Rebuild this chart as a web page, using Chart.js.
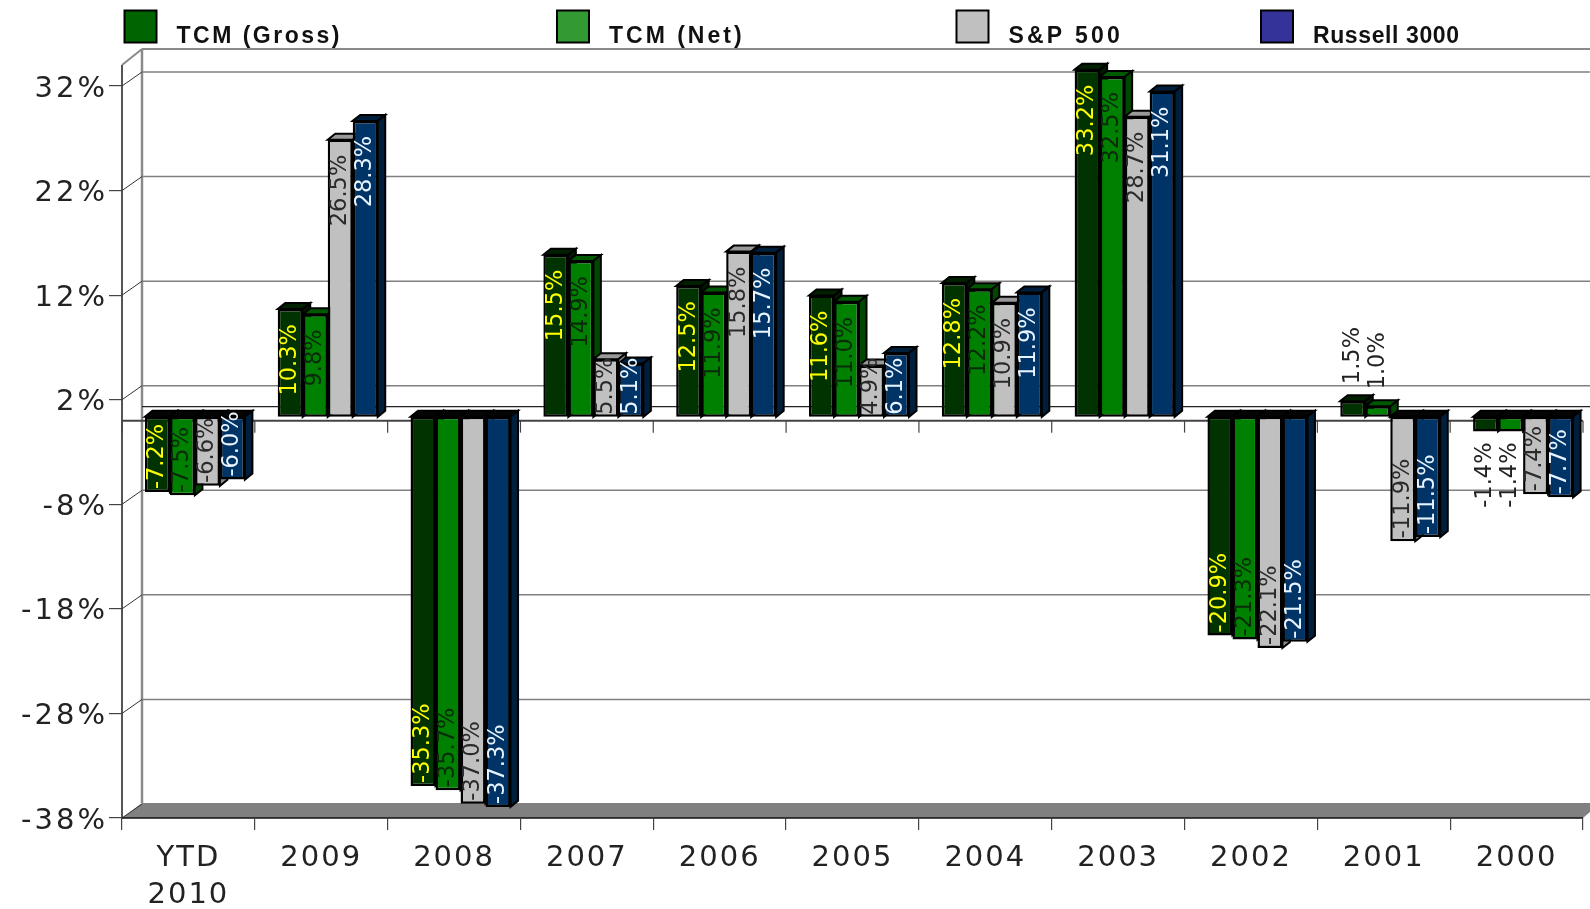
<!DOCTYPE html>
<html><head><meta charset="utf-8">
<style>html,body{margin:0;padding:0;background:#fff}canvas{display:block}</style>
<script src="https://cdn.jsdelivr.net/npm/chart.js@4"></script>
</head><body><canvas id="c" width="1590" height="909"></canvas>
<script>
const categories = [['YTD','2010'],'2009','2008','2007','2006','2005','2004','2003','2002','2001','2000'];
const seriesNames = ['TCM (Gross)','TCM (Net)','S&P 500','Russell 3000'];
const tcmGross = [-7.2,10.3,-35.3,15.5,12.5,11.6,12.8,33.2,-20.9,1.5,-1.4];
const tcmNet = [-7.5,9.8,-35.7,14.9,11.9,11.0,12.2,32.5,-21.3,1.0,-1.4];
const sp500 = [-6.6,26.5,-37.0,5.5,15.8,4.9,10.9,28.7,-22.1,-11.9,-7.4];
const russell3000 = [-6.0,28.3,-37.3,5.1,15.7,6.1,11.9,31.1,-21.5,-11.5,-7.7];
const yTickLabels = ['-38%','-28%','-18%','-8%','2%','12%','22%','32%'];
const yMin = -38, yMax = 32, yStep = 10;

const frontColors = ['#003300','#008000','#C0C0C0','#003366'];
const topColors   = ['#002000','#005800','#999999','#001f3d'];
const sideColors  = ['#001a00','#004800','#8c8c8c','#001f3d'];
const labelColors = ['#FFFF00','#0a2a0a','#2a2a2a','#E8F4FF'];
const legendColors = ['#006400','#339933','#C0C0C0','#333399'];
const legendX = [124.5,557,956.5,1261];
const legendTracking = ['2.5px','3px','3.2px','0.6px'];

const BACK_DX = 20, BACK_DY = 14;   // wall depth
const BAR_DX = 6.5, BAR_DY = -3.8;  // bars stand inside the depth
const FACE_DX = 7.5, FACE_DY = 6;   // bar 3D depth

const series = [tcmGross,tcmNet,sp500,russell3000];
const line = (ctx,x1,y1,x2,y2,col,w)=>{ctx.strokeStyle=col;ctx.lineWidth=w;ctx.beginPath();ctx.moveTo(x1,y1);ctx.lineTo(x2,y2);ctx.stroke();};
const poly = (ctx,pts,fill,stroke,w)=>{ctx.beginPath();pts.forEach((p,i)=>i?ctx.lineTo(p[0],p[1]):ctx.moveTo(p[0],p[1]));ctx.closePath();ctx.fillStyle=fill;ctx.fill();ctx.strokeStyle=stroke;ctx.lineWidth=w;ctx.stroke();};
const tuneLabels = (scale,ctx,dy,tracking)=>{
  if(scale._tuned) return;
  scale._tuned=true;
  const orig=scale.drawLabels.bind(scale);
  scale.drawLabels=(a)=>{ctx.save();ctx.translate(0,dy);ctx.letterSpacing=tracking;orig(a);ctx.restore();};
};

const scene = {
  id:'scene',
  beforeDraw(chart){
    const ctx=chart.ctx, a=chart.chartArea, y=chart.scales.y;
    const L=a.left, R=a.right, B=a.bottom, W=chart.width;
    const topFront=y.getPixelForValue(34);
    const zero=y.getPixelForValue(0);
    tuneLabels(chart.scales.y,ctx,3,'3px');
    tuneLabels(chart.scales.x,ctx,0,'2px');
    ctx.save();
    // floor
    ctx.beginPath();ctx.moveTo(L,B);ctx.lineTo(L+BACK_DX,B-BACK_DY-1);ctx.lineTo(W,B-BACK_DY-1);ctx.lineTo(W,B-6);ctx.lineTo(R,B);ctx.closePath();
    ctx.fillStyle='#808080';ctx.fill();
    // walls
    line(ctx,L+BACK_DX,topFront-BACK_DY-2,W,topFront-BACK_DY-2,'#8a8a8a',2);
    line(ctx,L,topFront,L+BACK_DX,topFront-BACK_DY-2,'#8a8a8a',2);
    line(ctx,L+BACK_DX,topFront-BACK_DY-2,L+BACK_DX,B-BACK_DY-1,'#8a8a8a',2.5);
    line(ctx,L,topFront,L,B,'#555',2);
    // back grid and side diagonals
    y.ticks.forEach(t=>{
      const py=y.getPixelForValue(t.value);
      if(t.value>yMin) line(ctx,L+BACK_DX,py-BACK_DY,W,py-BACK_DY,'#808080',1.5);
      line(ctx,L,py,L+BACK_DX,py-BACK_DY,'#333',1);
    });
    // zero plane: back line, front line with its ticks
    line(ctx,L+BACK_DX,zero-BACK_DY,W,zero-BACK_DY,'#222',1.2);
    line(ctx,L,zero,R,zero,'#444',2);
    for(let i=0;i<=categories.length;i++){
      const px=L+(R-L)*i/categories.length;
      line(ctx,px,zero,px,zero+12,'#444',1.2);
    }
    line(ctx,L,B,R,B,'#111',1.5);
    // legend
    ctx.textAlign='left';ctx.textBaseline='alphabetic';
    seriesNames.forEach((n,i)=>{
      ctx.fillStyle=legendColors[i];ctx.fillRect(legendX[i],10.5,32,32);
      ctx.strokeStyle='#000';ctx.lineWidth=2;ctx.strokeRect(legendX[i],10.5,32,32);
      ctx.fillStyle='#111';ctx.font='bold 23px "Liberation Sans"';ctx.letterSpacing=legendTracking[i];
      ctx.fillText(n,legendX[i]+52,43);
    });
    ctx.restore();
  },
  beforeDatasetDraw(){ return false; },
  afterDatasetsDraw(chart){
    const ctx=chart.ctx;
    ctx.save();ctx.translate(BAR_DX,BAR_DY);
    // bars left to right, so each series covers the side of the one before it
    series.forEach((vals,i)=>{
      const meta=chart.getDatasetMeta(i);
      meta.controller.draw();
      meta.data.forEach((el)=>{
        const p=el.getProps(['x','y','base','width'],true);
        const l=p.x-p.width/2, r=p.x+p.width/2, t=Math.min(p.y,p.base), b=Math.max(p.y,p.base);
        const neg=p.y>p.base;
        poly(ctx,[[l,t],[l+FACE_DX,t-FACE_DY],[r+FACE_DX,t-FACE_DY],[r,t]],neg?'#050505':topColors[i],'#000',2);
        poly(ctx,[[r,t],[r+FACE_DX,t-FACE_DY],[r+FACE_DX,b-FACE_DY],[r,b]],sideColors[i],'#000',2);
      });
    });
    ctx.font='22.5px "DejaVu Sans"';ctx.textAlign='left';ctx.textBaseline='middle';
    series.forEach((vals,i)=>{
      chart.getDatasetMeta(i).data.forEach((el,j)=>{
        const v=vals[j], txt=v.toFixed(1)+'%', w=ctx.measureText(txt).width;
        const p=el.getProps(['x','y','base'],true);
        const h=Math.abs(p.y-p.base);
        const outside=h<w*0.4;
        let start;
        if(v>0){
          if(outside) start=p.y-17;
          else start=Math.min(p.y+15+w,p.base-2);
        }else{
          start=outside?p.y+11+w:p.y-3;
        }
        ctx.save();
        ctx.translate(p.x,start);ctx.rotate(-Math.PI/2);
        ctx.fillStyle=outside?'#222':labelColors[i];
        ctx.fillText(txt,0,0);
        ctx.restore();
      });
    });
    ctx.restore();
  }
};

new Chart(document.getElementById('c'),{
  type:'bar',
  plugins:[scene],
  data:{
    labels:categories,
    datasets:series.map((vals,i)=>({
      label:seriesNames[i],
      data:vals,
      backgroundColor:frontColors[i],
      borderColor:'#000',
      borderWidth:2.5,
      borderSkipped:false,
      categoryPercentage:0.753,
      barPercentage:1,
      clip:false
    }))
  },
  options:{
    responsive:false,animation:false,
    layout:{padding:{top:86,right:7,left:0,bottom:0}},
    plugins:{legend:{display:false},tooltip:{enabled:false}},
    scales:{
      x:{
        offset:true,
        afterFit(s){s.height=91;},
        grid:{offset:true,drawOnChartArea:false,drawTicks:true,tickLength:12,color:'#444',lineWidth:1.2},
        border:{display:false},
        ticks:{font:{family:'"DejaVu Sans"',size:29,lineHeight:1.27},color:'#222',maxRotation:0,autoSkip:false,padding:10}
      },
      y:{
        min:yMin,max:yMax,
        afterFit(s){s.width=122;},
        grid:{drawOnChartArea:false,drawTicks:true,tickLength:13,color:'#444',lineWidth:1.2},
        border:{display:false},
        ticks:{stepSize:yStep,font:{family:'"DejaVu Sans"',size:29},color:'#222',padding:1,
          callback:(v,i)=>yTickLabels[i]}
      }
    }
  }
});
</script></body></html>
